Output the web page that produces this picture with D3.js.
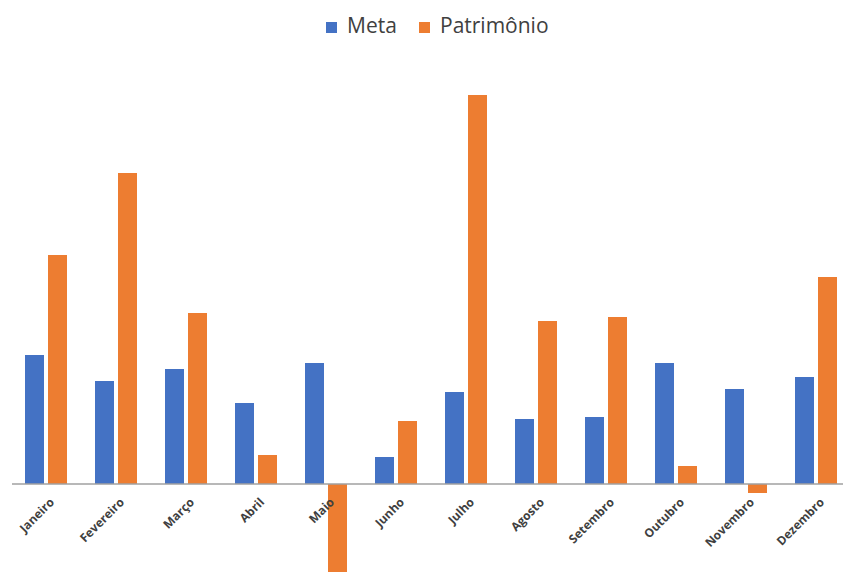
<!DOCTYPE html>
<html><head><meta charset="utf-8">
<script src="https://cdn.jsdelivr.net/npm/d3@7"></script>
<style>body{margin:0;background:#fff}svg{display:block}</style>
</head><body>
<script>
const categories = ["Janeiro","Fevereiro","Março","Abril","Maio","Junho","Julho","Agosto","Setembro","Outubro","Novembro","Dezembro"];
const seriesNames = ["Meta","Patrimônio"];
const meta = [129,103,115,81,121,27,92,65,67,121,95,107];
const patrimonio = [229,311,171,29,-100,63,389,163,167,18,-9,207];
const colors = ["#4472C4","#ED7D31"];

const W = 843, H = 572;
const svg = d3.select("body").append("svg").attr("width", W).attr("height", H);
const x = d3.scaleBand().domain(categories).range([11, 851]).paddingInner(0).paddingOuter(0);
const xs = d3.scaleBand().domain(seriesNames).range([0, x.bandwidth()]).paddingInner(0.174).paddingOuter(0.609);
const y = d3.scaleLinear().domain([0, 389]).range([484, 95]);

svg.append("defs").append("clipPath").attr("id","c").append("rect").attr("x",0).attr("y",0).attr("width",W).attr("height",H);
const g = svg.append("g").attr("clip-path","url(#c)");

const data = categories.map((c,i)=>({c, vals:[meta[i], patrimonio[i]]}));
const grp = g.selectAll("g.cat").data(data).join("g").attr("transform", d=>`translate(${x(d.c)},0)`);
grp.selectAll("rect").data(d=>d.vals.map((v,j)=>({v, s:seriesNames[j], j})))
  .join("rect")
  .attr("x", d=>xs(d.s))
  .attr("width", xs.bandwidth())
  .attr("y", d=>y(Math.max(0,d.v)))
  .attr("height", d=>Math.abs(y(d.v)-y(0)))
  .attr("fill", d=>colors[d.j]);

g.append("line").attr("x1",12).attr("x2",W).attr("y1",y(0)).attr("y2",y(0))
  .attr("stroke","#a0a0a0").attr("stroke-width",1.5);

svg.append("g").selectAll("text").data(categories).join("text")
  .attr("transform", d=>`translate(${x(d)+x.bandwidth()/2+6},500) rotate(-45)`)
  .attr("text-anchor","end").attr("dy","0.35em")
  .attr("font-family","'Open Sans', sans-serif").attr("font-size",12).attr("font-weight",700)
  .attr("fill","#404040").text(d=>d);

const leg = svg.append("g");
const lx = [326, 419];
seriesNames.forEach((s,i)=>{
  leg.append("rect").attr("x",lx[i]).attr("y",22).attr("width",11).attr("height",11).attr("fill",colors[i]);
  leg.append("text").attr("x",lx[i]+21).attr("y",33).attr("font-family","'Open Sans', sans-serif")
    .attr("font-size",21).attr("fill","#404040").text(s);
});
</script>
</body></html>
